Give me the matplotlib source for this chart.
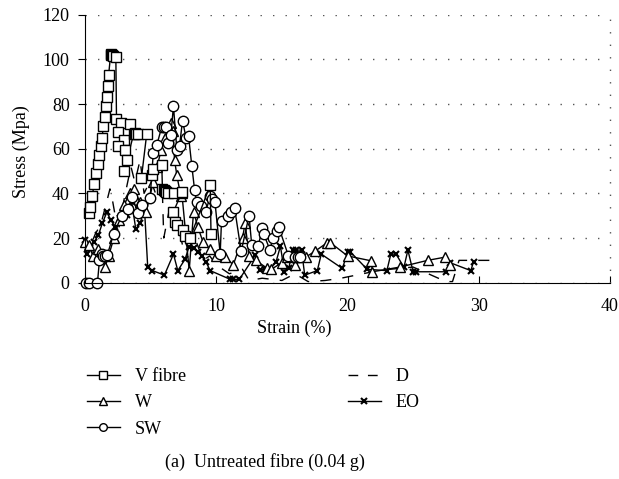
import matplotlib
matplotlib.use("Agg")
import matplotlib.pyplot as plt
from matplotlib.lines import Line2D

plt.rcParams['font.family'] = ['Liberation Serif', 'DejaVu Serif']

# strain (%) / stress (MPa)
vf_x = [0.3, 0.4, 0.55, 0.7, 0.85, 1.0, 1.1, 1.2, 1.3, 1.4, 1.5, 1.58, 1.65, 1.72, 1.8,
        1.95, 2.0, 2.05, 2.1, 2.35, 2.4, 2.75, 3.45, 2.55, 2.95, 2.55, 3.05, 3.2, 3.0,
        3.7, 3.8, 3.9, 4.0, 4.7, 4.3, 5.1, 5.2, 5.85, 5.9, 6.0, 6.1, 6.2, 6.3, 6.75,
        7.38, 6.74, 6.87, 7.0, 7.43, 7.6, 8.0, 9.54, 9.6]
vf_y = [31, 34, 39, 44, 49, 53, 57, 61, 65, 70, 74, 79, 83, 88, 93,
        102, 102.5, 102, 101.5, 101, 73.5, 71.3, 71, 67.6, 63.8, 61, 59.4, 55, 50,
        66.5, 67, 66.8, 66.5, 66.5, 47, 48, 51, 52.7, 42, 41.5, 41, 40.5, 40, 40,
        40.5, 31.8, 27.3, 26, 23.6, 21, 20, 43.7, 22]

w_x = [0.0, 0.3, 0.6, 1.0, 1.53, 1.8, 2.2, 2.6, 3.0, 3.4, 3.7, 4.2, 4.66, 5.2, 5.5,
       5.8, 6.1, 6.54, 6.7, 6.82, 7.0, 7.3, 7.38, 7.94, 8.27, 8.6, 9.0, 9.5, 10.0,
       10.7, 11.3, 12.0, 12.2, 12.5, 13.0, 13.9, 14.2, 15.0, 15.4, 16.0, 16.8, 17.5,
       18.45, 18.7, 20.0, 21.8, 21.9, 24.0, 26.1, 27.4, 27.8]
w_y = [18, 17, 12, 15, 7.2, 12, 20, 28, 35, 40, 42, 36, 31.8, 45, 52,
       59.4, 65, 71.6, 68, 55, 48, 38.8, 40, 5.4, 31.8, 25, 18, 15, 12,
       11.4, 8, 20, 26.6, 12, 10, 6.4, 6, 9, 11.4, 8, 11.4, 14,
       17.9, 17.9, 12, 9.8, 4.9, 7, 10, 11.4, 8]

sw_x = [0.1, 0.3, 0.95, 1.1, 1.27, 1.4, 1.55, 1.7, 2.2, 2.8, 3.3, 3.56, 4.07, 4.33,
        4.96, 5.2, 5.47, 5.85, 6.0, 6.15, 6.36, 6.54, 6.74, 7.0, 7.2, 7.43, 7.71,
        7.89, 8.14, 8.35, 8.5, 8.8, 9.19, 9.54, 9.7, 9.9, 10.3, 10.4, 10.9, 11.1,
        11.4, 11.9, 12.5, 12.7, 13.2, 13.5, 13.6, 14.1, 14.3, 14.6, 14.76, 15.5,
        16.0, 16.2, 16.4]
sw_y = [0, 0, 0, 10, 13, 12, 12, 12.5, 22, 30, 33, 38.5, 31, 34.8,
        37.8, 57.9, 61.6, 69.8, 69.8, 69.8, 62.4, 66.1, 79, 59.4, 61.2, 72.5, 64.6,
        65.6, 52.2, 41.5, 36, 34.5, 31.6, 38.8, 37.5, 36.2, 13, 27.7, 30, 31.5,
        33.3, 14, 30, 17, 16.4, 24.3, 22, 14.6, 19.9, 23, 25, 12,
        11.5, 11.5, 11.5]

d_x = [0.0, 0.3, 0.8, 1.2, 1.6, 1.9, 2.0, 2.3, 2.6, 3.0, 3.5, 3.8, 4.2, 4.5, 5.0,
       5.5, 5.9, 6.0, 6.5, 7.0, 7.5, 8.0, 8.5, 9.0, 9.5, 10.0, 11.0, 12.0, 12.5,
       13.5, 15.0, 16.0, 17.0, 18.3, 19.5, 22.5, 25.0, 27.5, 28.0, 28.5, 30.9]
d_y = [20, 15, 22, 26, 35, 42, 40, 30, 25, 38, 52, 45, 55, 40, 46,
       38, 40, 20, 35, 28, 15, 22, 18, 10, 12, 8, 4, 6, 1,
       2, 1, 4, 0.5, 1, 2, 5.6, 7, 0.5, 0.5, 10, 10]

eo_x = [0.0, 0.13, 0.38, 0.71, 1.02, 1.32, 1.66, 1.98, 2.29, 2.67, 2.93, 3.23, 3.56,
        3.87, 4.2, 4.53, 4.78, 5.14, 6.05, 6.74, 7.07, 7.63, 7.93, 8.27, 8.6, 8.9,
        9.21, 9.54, 11.07, 11.3, 11.76, 12.98, 13.3, 13.74, 14.0, 14.56, 14.89,
        15.19, 15.52, 15.83, 16.1, 16.5, 16.74, 17.7, 18.0, 19.6, 20.05, 20.2, 21.5,
        23.0, 23.3, 23.7, 24.3, 24.6, 25.0, 25.2, 27.5, 27.8, 29.4, 29.6]
eo_y = [19, 12.8, 15.4, 18.3, 21.3, 26.6, 31.5, 28, 25, 28.8, 29.5, 30.3, 36.2,
        23.9, 26.6, 33.3, 6.9, 5.4, 3.4, 12.8, 5.4, 10.6, 16.1, 15.4, 13.9, 11.9,
        9.4, 5.4, 1.5, 1.5, 1.5, 12.4, 5.7, 6, 5.4, 9.4, 16.4,
        4.9, 6.4, 14.6, 14.6, 14.6, 3.4, 5.4, 12.8, 6.4, 13.9, 13.9, 6,
        5.4, 12.8, 12.8, 6.9, 14.6, 4.9, 4.9, 4.9, 9, 5.4, 9.4]

W, H = 619, 479
fig = plt.figure(figsize=(W / 100, H / 100), dpi=100)
ax = fig.add_axes([85 / W, 1 - 282.7 / H, 525 / W, 268 / H])

mk = dict(color='black', lw=1.0, markerfacecolor='white', markeredgecolor='black',
          markeredgewidth=1.0, clip_on=False)
ax.plot(d_x, d_y, color='black', lw=1.0, linestyle=(0, (8, 8)), clip_on=False)
ax.plot(eo_x, eo_y, color='black', lw=1.0, marker='x', markersize=4,
        markeredgewidth=1.5, clip_on=False)
ax.plot(w_x, w_y, marker='^', markersize=7, **mk)
ax.plot(sw_x, sw_y, marker='o', markersize=7.5, **mk)
ax.plot(vf_x, vf_y, marker='s', markersize=6.8, **mk)

ax.set_xlim(0, 40)
ax.set_ylim(0, 120)
ax.set_xticks([0, 10, 20, 30, 40])
ax.set_yticks([0, 20, 40, 60, 80, 100, 120])
ax.tick_params(axis='x', direction='in', length=5, labelsize=13, pad=11)
ax.tick_params(axis='y', direction='out', length=5, labelsize=13, pad=6)
ax.spines['top'].set_visible(False)
ax.spines['right'].set_visible(False)
ax.grid(axis='y', color='#555555', linestyle=(0, (1, 8)), lw=1.0)
ax.axvline(40, color='#555555', linestyle=(0, (1, 8)), lw=1.0, clip_on=False)
ax.set_axisbelow(True)

fig.text(294 / W, 1 - 328 / H, 'Strain (%)', ha='center', va='center', fontsize=13)
fig.text(21 / W, 1 - 152 / H, 'Stress (Mpa)', ha='center', va='center',
         rotation=90, fontsize=13)
fig.text(265 / W, 1 - 462 / H, '(a)  Untreated fibre (0.04 g)', ha='center',
         va='center', fontsize=13)

def handle(marker, ls='-', ms=5.5, mew=1.0):
    return Line2D([], [], color='black', lw=1.0, linestyle=ls, marker=marker,
                  markersize=ms, markerfacecolor='white', markeredgecolor='black',
                  markeredgewidth=mew)

leg_kw = dict(frameon=False, loc='upper left', fontsize=13, handlelength=1.8,
              handletextpad=0.85, labelspacing=0.52, borderpad=0, borderaxespad=0)
fig.legend([handle('s'), handle('^'), handle('o')], ['V fibre', 'W', 'SW'],
           bbox_to_anchor=(87 / W, 1 - 368 / H), **leg_kw)
fig.legend([handle(None, ls=(0, (7, 7))), handle('x', ms=4, mew=1.5)], ['D', 'EO'],
           bbox_to_anchor=(348 / W, 1 - 368 / H), **leg_kw)

fig.savefig('out.png', dpi=100)
